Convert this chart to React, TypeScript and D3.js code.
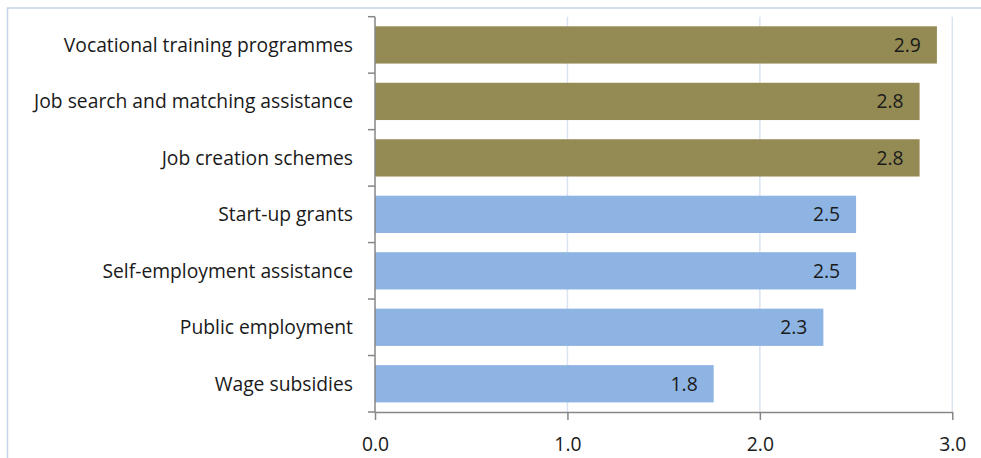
import React, { useEffect, useRef } from 'react';
import * as d3 from 'd3';

// programme types, top to bottom
const categories = [
  'Vocational training programmes',
  'Job search and matching assistance',
  'Job creation schemes',
  'Start-up grants',
  'Self-employment assistance',
  'Public employment',
  'Wage subsidies',
];
const values = [2.92, 2.83, 2.83, 2.5, 2.5, 2.33, 1.76];
const groups = ['a', 'a', 'a', 'b', 'b', 'b', 'b'];
const xTicks = [0, 1, 2, 3];

const colors: Record<string, string> = { a: '#948A54', b: '#8EB4E3' };

const W = 981;
const H = 458;
const FONT = '"Open Sans", Lato, sans-serif';
const FS = 19.3;

export default function App() {
  const ref = useRef<SVGSVGElement>(null);

  useEffect(() => {
    const svg = d3.select(ref.current);
    svg.selectAll('*').remove();

    const left = 375, right = 952.3, top = 16.7, bottom = 412;

    const x = d3.scaleLinear().domain([0, 3]).range([left, right]);
    const y = d3.scaleBand<string>()
      .domain(categories)
      .range([top, bottom])
      .paddingInner(0.34)
      .paddingOuter(0.17);

    // outer frame (cropped right and bottom)
    svg.append('path')
      .attr('d', `M7.5,${H} V8 H${W}`)
      .attr('fill', 'none')
      .attr('stroke', '#C3D3E8')
      .attr('stroke-width', 1.5);

    // gridlines
    svg.append('g')
      .selectAll('line')
      .data(xTicks.slice(1))
      .enter()
      .append('line')
      .attr('x1', d => x(d)).attr('x2', d => x(d))
      .attr('y1', top).attr('y2', bottom)
      .attr('stroke', '#D9E3F1')
      .attr('stroke-width', 1.5);

    const rows = categories.map((c, i) => ({ c, v: values[i], g: groups[i] }));

    svg.append('g')
      .selectAll('rect')
      .data(rows)
      .enter()
      .append('rect')
      .attr('x', x(0))
      .attr('y', d => y(d.c)!)
      .attr('width', d => x(d.v) - x(0))
      .attr('height', y.bandwidth())
      .attr('fill', d => colors[d.g]);

    svg.append('g')
      .selectAll('text')
      .data(rows)
      .enter()
      .append('text')
      .attr('x', d => x(d.v) - 16)
      .attr('y', d => y(d.c)! + y.bandwidth() / 2)
      .attr('dy', '0.36em')
      .attr('text-anchor', 'end')
      .attr('font-family', FONT)
      .attr('font-size', FS)
      .attr('fill', '#1a1a1a')
      .text(d => d3.format('.1f')(d.v));

    // category axis, ticks between bands
    const step = y.step();
    const bounds = d3.range(categories.length + 1).map(i => top + i * step);
    const ya = svg.append('g');
    ya.append('line')
      .attr('x1', left).attr('x2', left)
      .attr('y1', top).attr('y2', bottom)
      .attr('stroke', '#868686').attr('stroke-width', 1.5);
    ya.selectAll('line.t')
      .data(bounds)
      .enter()
      .append('line')
      .attr('class', 't')
      .attr('x1', left - 7).attr('x2', left)
      .attr('y1', d => d).attr('y2', d => d)
      .attr('stroke', '#868686').attr('stroke-width', 1.5);
    ya.selectAll('text')
      .data(categories)
      .enter()
      .append('text')
      .attr('x', left - 22)
      .attr('y', d => y(d)! + y.bandwidth() / 2)
      .attr('dy', '0.36em')
      .attr('text-anchor', 'end')
      .attr('font-family', FONT)
      .attr('font-size', FS)
      .attr('fill', '#1a1a1a')
      .text(d => d);

    const xa = svg.append('g')
      .attr('transform', `translate(0,${bottom})`)
      .call(d3.axisBottom(x).tickValues(xTicks).tickSize(8).tickSizeOuter(0).tickFormat(d3.format('.1f')));
    xa.select('.domain').attr('stroke', '#868686').attr('stroke-width', 1.5);
    xa.selectAll('.tick line').attr('stroke', '#868686').attr('stroke-width', 1.5);
    xa.selectAll('.tick text')
      .attr('font-family', FONT)
      .attr('font-size', FS)
      .attr('fill', '#1a1a1a')
      .attr('y', 32)
      .attr('dy', '0.36em');
  }, []);

  return (
    <svg
      ref={ref}
      width={W}
      height={H}
      style={{ position: 'absolute', left: 0, top: 0, background: '#fff' }}
    />
  );
}
